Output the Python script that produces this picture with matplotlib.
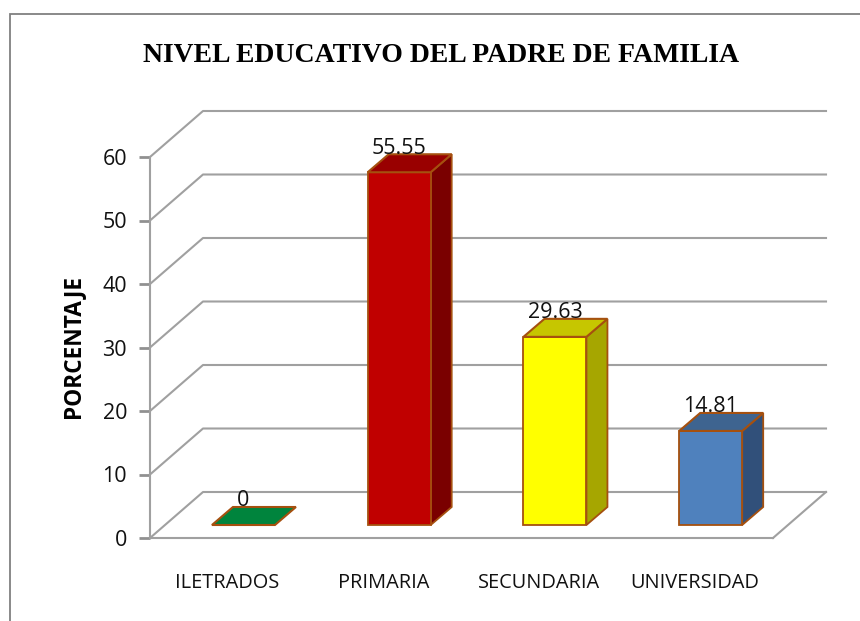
import matplotlib
matplotlib.use('Agg')
import matplotlib.pyplot as plt
import numpy as np
from matplotlib.patches import Polygon, Rectangle

categorias = ["ILETRADOS", "PRIMARIA", "SECUNDARIA", "UNIVERSIDAD"]
valores = [0, 55.55, 29.63, 14.81]
etiquetas = ["0", "55.55", "29.63", "14.81"]
ticks_y = [0, 10, 20, 30, 40, 50, 60]

color_frente = ["#00843D", "#C00000", "#FFFF00", "#4F81BD"]
color_arriba = ["#00843D", "#990000", "#C6C600", "#3E6490"]
color_lado = ["#006830", "#7A0000", "#A6A600", "#31507A"]
BORDE = "#A5500F"
GRIS = "#A0A0A0"

W, H = 860, 621
plt.rcParams['font.family'] = ['Liberation Sans Narrow', 'Open Sans', 'DejaVu Sans']

fig = plt.figure(figsize=(W / 100, H / 100), dpi=100)
ax = fig.add_axes([150 / W, 1 - 538 / H, 623 / W, 381 / H])
ax.set_xlim(-0.6, 3.4)
ax.set_ylim(0, 60)
ax.patch.set_alpha(0)

# profundidad del piso y de las barras (en unidades de datos)
px_x = 4 / 623
px_y = 60 / 381
fondo_x, fondo_y = 53 * px_x, 46 * px_y
barra_dx, barra_dy = 21 * px_x, 18 * px_y
base_y = 13 * px_y
ancho = 63 * px_x

# marco exterior
fig.add_artist(Rectangle((10 / W, -0.01), 900 / W, 1.01 - 14 / H, transform=fig.transFigure,
                         fill=False, ec="#808080", lw=1.3))

# pared y piso
for t in ticks_y:
    ax.plot([-0.6, -0.6 + fondo_x, 3.4 + fondo_x], [t, t + fondo_y, t + fondo_y],
            color=GRIS, lw=1.5, clip_on=False, zorder=1)
ax.plot([3.4, 3.4 + fondo_x], [0, fondo_y], color=GRIS, lw=1.5, clip_on=False, zorder=1)

ax.spines['top'].set_visible(False)
ax.spines['right'].set_visible(False)
ax.spines['left'].set_color(GRIS)
ax.spines['bottom'].set_color(GRIS)
ax.spines['left'].set_linewidth(1.5)
ax.spines['bottom'].set_linewidth(1.5)

# barras
for i, v in enumerate(valores):
    x0 = i - ancho / 2
    x1 = i + ancho / 2
    y0 = base_y
    y1 = base_y + v
    if v > 0:
        ax.add_patch(Polygon([(x1, y0), (x1 + barra_dx, y0 + barra_dy), (x1 + barra_dx, y1 + barra_dy), (x1, y1)],
                             fc=color_lado[i], ec=BORDE, lw=1.3, clip_on=False, zorder=3))
        ax.add_patch(Rectangle((x0, y0), ancho, v, fc=color_frente[i], ec=BORDE, lw=1.3,
                               clip_on=False, zorder=3))
    ax.add_patch(Polygon([(x0, y1), (x1, y1), (x1 + barra_dx, y1 + barra_dy), (x0 + barra_dx, y1 + barra_dy)],
                         fc=color_arriba[i], ec=BORDE, lw=1.5, clip_on=False, zorder=3))
    ax.text(i, y1 + barra_dy - 0.7, etiquetas[i], ha='center', va='bottom', fontsize=15.5,
            color="#111111", clip_on=False, zorder=4)

# las etiquetas del eje van un poco a la izquierda de cada barra
ax.set_xticks(np.arange(len(categorias)) - 16 * px_x)
ax.set_xticklabels(categorias, fontsize=14.4, color="#111111")
ax.tick_params(axis='x', length=0, pad=25.5)
ax.set_yticks(ticks_y)
ax.tick_params(axis='y', length=8, width=2, color="#909090", pad=8.5, labelsize=15.5, labelcolor="#111111")

fig.text(73 / W, 1 - 347 / H, "PORCENTAJE", rotation=90, ha='center', va='center',
         fontsize=16.3, fontweight='bold', family=['Open Sans', 'DejaVu Sans'], color="black")
fig.text(441.5 / W, 1 - 55 / H, "NIVEL EDUCATIVO DEL PADRE DE FAMILIA", ha='center', va='center',
         fontsize=20, fontweight='bold', family='Liberation Serif', color="black")

fig.savefig("out.png", dpi=100)
